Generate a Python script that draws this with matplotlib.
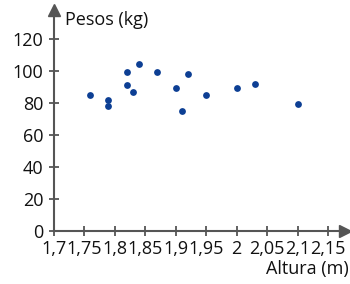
import matplotlib.pyplot as plt

# data
altura = [1.76, 1.79, 1.79, 1.82, 1.82, 1.83, 1.84, 1.87, 1.90, 1.92, 1.91, 1.95, 2.00, 2.03, 2.10]
pesos = [85, 82, 78, 99, 91, 87, 104, 99, 89, 98, 75, 85, 89, 92, 79]
x_ticks = [1.7, 1.75, 1.8, 1.85, 1.9, 1.95, 2.0, 2.05, 2.1, 2.15]
x_labels = ['1,7', '1,75', '1,8', '1,85', '1,9', '1,95', '2', '2,05', '2,1', '2,15']
y_ticks = [0, 20, 40, 60, 80, 100, 120]

axis_color = '#555555'
dot_color = '#0d3f94'

plt.rcParams['font.family'] = ['Open Sans', 'DejaVu Sans']

fig = plt.figure(figsize=(3.5, 2.84), dpi=100)
ax = fig.add_axes([0.153, 0.187, 0.833, 0.778])
ax.scatter(altura, pesos, s=24, color=dot_color, zorder=3, linewidths=0)

ax.set_xlim(1.7, 2.178)
ax.set_ylim(0, 138)
ax.set_xticks(x_ticks)
ax.set_xticklabels(x_labels)
ax.set_yticks(y_ticks)

for side in ['top', 'right']:
    ax.spines[side].set_visible(False)
for side in ['left', 'bottom']:
    ax.spines[side].set_color(axis_color)
    ax.spines[side].set_linewidth(1.5)

ax.tick_params(direction='inout', length=7, width=1.3, color=axis_color,
               labelsize=13, labelcolor='#111111')
ax.tick_params(axis='y', pad=4)
ax.tick_params(axis='x', pad=3)

# arrow heads at the ends of the axes
ax.plot(1, 0, '>', color=axis_color, markersize=8, transform=ax.transAxes, clip_on=False)
ax.plot(0, 1, '^', color=axis_color, markersize=8, transform=ax.transAxes, clip_on=False)

fig.text(0.185, 0.93, 'Pesos (kg)', fontsize=13, color='#111111', ha='left', va='center')
fig.text(0.995, 0.052, 'Altura (m)', fontsize=13, color='#111111', ha='right', va='center')

fig.savefig('out.png', dpi=100)
